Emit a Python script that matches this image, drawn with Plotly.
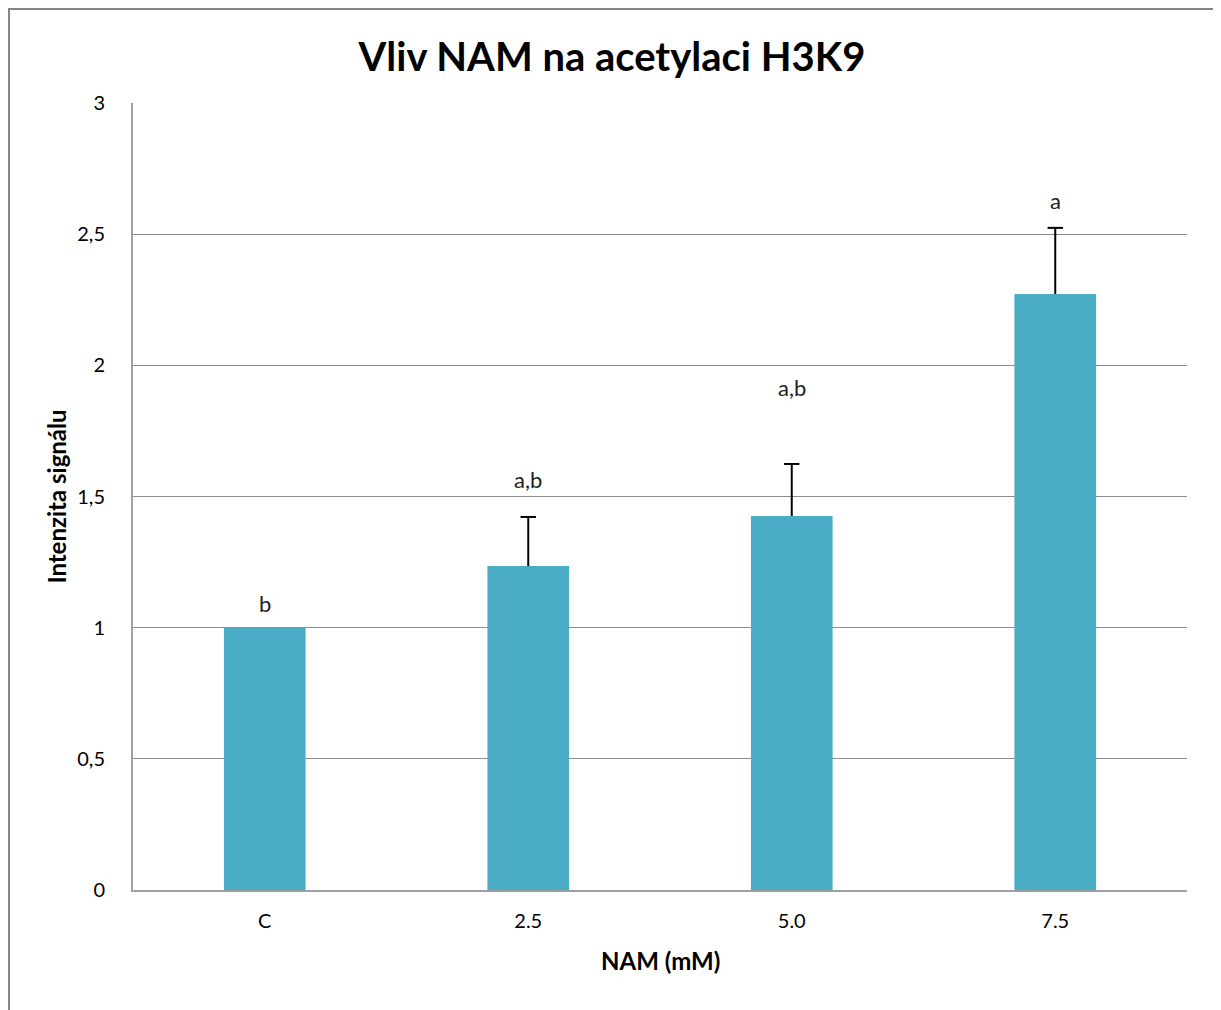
import plotly.graph_objects as go

categories = ["C", "2.5", "5.0", "7.5"]
values = [1.0, 1.235, 1.426, 2.272]
error_tops = [None, 1.422, 1.624, 2.524]
sig_labels = ["b", "a,b", "a,b", "a"]
sig_label_heights = [1.094, 1.563, 1.914, 2.63]
y_ticks = [0, 0.5, 1, 1.5, 2, 2.5, 3]
y_tick_text = ["0", "0,5", "1", "1,5", "2", "2,5", "3"]

err_plus = [None if t is None else t - v for t, v in zip(error_tops, values)]
err_minus = [None if t is None else 0 for t in error_tops]

FONT = "Lato, 'Open Sans', sans-serif"

# plot area in figure pixels
L, T, W, H = 125, 95, 1054, 787
FW, FH = 1221, 1010

fig = go.Figure()
fig.add_trace(go.Bar(
    x=categories,
    y=values,
    marker=dict(color="#4BACC6", line=dict(width=0)),
    showlegend=False,
    hoverinfo="skip",
))
# vertical error stems (no caps)
fig.add_trace(go.Scatter(
    x=categories, y=values, mode="markers",
    marker=dict(size=1, color="rgba(0,0,0,0)"),
    error_y=dict(type="data", symmetric=False, array=err_plus, arrayminus=err_minus,
                 color="black", thickness=2, width=0, visible=True),
    showlegend=False, hoverinfo="skip",
))
# top caps
fig.add_trace(go.Scatter(
    x=categories, y=error_tops, mode="markers",
    marker=dict(symbol="line-ew", size=11, line=dict(width=2, color="black"), color="black"),
    showlegend=False, hoverinfo="skip",
))

annotations = []
for i, (lab, h) in enumerate(zip(sig_labels, sig_label_heights)):
    annotations.append(dict(x=i, y=h, xref="x", yref="y", text=lab, showarrow=False,
                            font=dict(family=FONT, size=22, color="#222222"),
                            yanchor="middle", xanchor="center"))

annotations.append(dict(x=-0.073, y=0.5, xref="paper", yref="paper", text="<b>Intenzita signálu</b>",
                        textangle=-90, showarrow=False, xanchor="center", yanchor="middle",
                        font=dict(family=FONT, size=24, color="black")))
annotations.append(dict(x=0.5, y=-0.0902, xref="paper", yref="paper", text="<b>NAM (mM)</b>",
                        showarrow=False, xanchor="center", yanchor="middle",
                        font=dict(family=FONT, size=24, color="black")))

fig.update_layout(
    width=FW, height=FH,
    margin=dict(l=L, r=FW - L - W, t=T, b=FH - T - H),
    paper_bgcolor="white", plot_bgcolor="white",
    title=dict(text="<b>Vliv NAM na acetylaci H3K9</b>", x=604 / FW, xanchor="center",
               y=1 - 49 / FH, yanchor="middle",
               font=dict(family=FONT, size=40, color="black")),
    bargap=0.69,
    annotations=annotations,
    shapes=[dict(type="rect", xref="paper", yref="paper",
                 x0=(1 - L) / W, x1=(1206 - L) / W,
                 y0=(T + H - 1040) / H, y1=(T + H - 1) / H,
                 line=dict(color="#868686", width=2), fillcolor="rgba(0,0,0,0)", layer="below")],
)

fig.update_xaxes(
    type="category", range=[-0.5, len(categories) - 0.5],
    showgrid=False, showline=True, linecolor="#A0A0A0", linewidth=2,
    ticks="outside", ticklen=12, tickcolor="rgba(0,0,0,0)",
    tickfont=dict(family=FONT, size=20, color="black"),
    fixedrange=True,
)
fig.update_yaxes(
    range=[0, 3], tickvals=y_ticks, ticktext=y_tick_text,
    showgrid=True, gridcolor="#8C8C8C", gridwidth=1,
    showline=True, linecolor="#A0A0A0", linewidth=2,
    zeroline=False,
    ticks="outside", ticklen=22, tickcolor="rgba(0,0,0,0)",
    tickfont=dict(family=FONT, size=20, color="black"),
    fixedrange=True,
)

fig.write_html("out.html", config={"displayModeBar": False})
